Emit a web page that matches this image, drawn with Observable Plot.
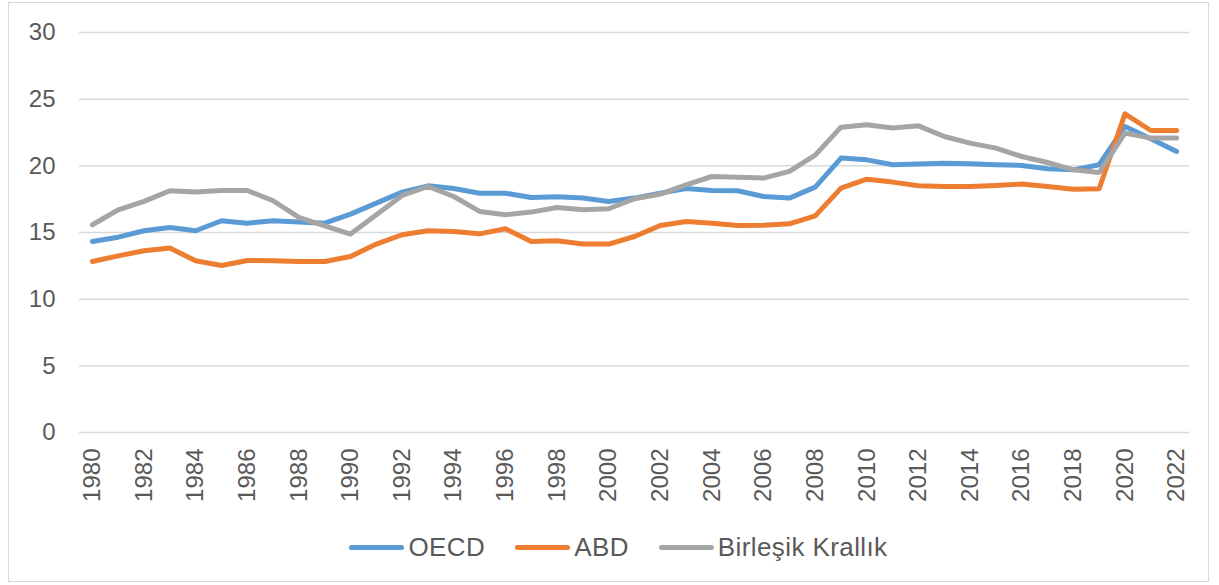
<!DOCTYPE html>
<html>
<head>
<meta charset="utf-8">
<script src="https://cdn.jsdelivr.net/npm/d3@7"></script>
<script src="https://cdn.jsdelivr.net/npm/@observablehq/plot@0.6"></script>
<style>
  html, body { margin: 0; padding: 0; background: #fff; }
  #wrap { position: relative; width: 1219px; height: 585px; overflow: hidden; font-family: "Liberation Sans", Arial, sans-serif; }
  #frame { position: absolute; left: 8px; top: 2px; width: 1201px; height: 580px; border: 1.5px solid #d9d9d9; box-sizing: border-box; pointer-events: none; }
  #chart { position: absolute; left: 0; top: 0; }
  #legend { position: absolute; left: 0; top: 529px; width: 1219px; height: 36px; display: flex; justify-content: center; align-items: center; gap: 30px; font-size: 26px; letter-spacing: 0.4px; color: #595959; padding-left: 18px; box-sizing: border-box; }
  .item { display: flex; align-items: center; }
  .swatch { display: inline-block; width: 55px; height: 5px; border-radius: 3px; margin-right: 4px; }
</style>
</head>
<body>
<div id="wrap">
  <div id="chart"></div>
  <div id="legend"></div>
  <div id="frame"></div>
</div>
<script>
const years = [1980,1981,1982,1983,1984,1985,1986,1987,1988,1989,1990,1991,1992,1993,1994,1995,1996,1997,1998,1999,2000,2001,2002,2003,2004,2005,2006,2007,2008,2009,2010,2011,2012,2013,2014,2015,2016,2017,2018,2019,2020,2021,2022];
const oecd = [14.33,14.65,15.13,15.38,15.13,15.88,15.7,15.88,15.78,15.7,16.38,17.2,18.03,18.5,18.3,17.95,17.95,17.63,17.68,17.58,17.33,17.58,17.95,18.3,18.15,18.13,17.7,17.58,18.4,20.58,20.45,20.08,20.13,20.2,20.15,20.08,20.03,19.78,19.7,20.08,22.95,22.03,21.08];
const abd = [12.83,13.25,13.63,13.83,12.88,12.53,12.9,12.88,12.83,12.83,13.2,14.13,14.83,15.13,15.08,14.9,15.28,14.33,14.38,14.13,14.13,14.7,15.53,15.83,15.7,15.53,15.55,15.65,16.25,18.33,19.0,18.78,18.5,18.45,18.45,18.53,18.63,18.45,18.25,18.28,23.9,22.65,22.65];
const uk = [15.58,16.7,17.33,18.13,18.03,18.15,18.15,17.38,16.13,15.5,14.88,16.33,17.78,18.45,17.7,16.58,16.33,16.53,16.88,16.7,16.78,17.53,17.88,18.58,19.2,19.15,19.08,19.58,20.8,22.9,23.08,22.83,23.0,22.2,21.7,21.33,20.7,20.25,19.7,19.5,22.45,22.08,22.08];
const seriesNames = ["OECD", "ABD", "Birleşik Krallık"];
const seriesColors = ["#5B9BD5", "#ED7D31", "#A5A5A5"];
const yTicks = [0, 5, 10, 15, 20, 25, 30];
const xTicks = [1980,1982,1984,1986,1988,1990,1992,1994,1996,1998,2000,2002,2004,2006,2008,2010,2012,2014,2016,2018,2020,2022];

const valuesBySeries = [oecd, abd, uk];
const rows = [];
seriesNames.forEach((name, si) => {
  years.forEach((yr, i) => rows.push({series: name, year: yr, value: valuesBySeries[si][i]}));
});

const chart = Plot.plot({
  width: 1219,
  height: 520,
  marginLeft: 79,
  marginRight: 30,
  marginTop: 32,
  marginBottom: 88,
  style: { fontFamily: '"Liberation Sans", Arial, sans-serif', fontSize: "24px", color: "#595959", background: "transparent" },
  x: { domain: [1979.5, 2022.5], ticks: xTicks, tickFormat: d => String(d) },
  y: { domain: [0, 30], ticks: yTicks },
  color: { domain: seriesNames, range: seriesColors },
  marks: [
    Plot.ruleY(yTicks, { stroke: "#d9d9d9", strokeWidth: 1.5 }),
    Plot.axisY({ ticks: yTicks, tickSize: 0, tickPadding: 24, label: null, fontSize: 24, fill: "#595959" }),
    Plot.axisX({ ticks: xTicks, tickSize: 0, tickPadding: 16, tickRotate: -90, label: null, fontSize: 24, fill: "#595959", tickFormat: d => String(d) }),
    Plot.line(rows, { x: "year", y: "value", z: "series", stroke: "series", strokeWidth: 5, strokeLinejoin: "round", strokeLinecap: "round" })
  ]
});
document.getElementById("chart").appendChild(chart);

const legend = document.getElementById("legend");
seriesNames.forEach((name, i) => {
  const it = document.createElement("div");
  it.className = "item";
  const sw = document.createElement("span");
  sw.className = "swatch";
  sw.style.background = seriesColors[i];
  it.appendChild(sw);
  const t = document.createElement("span");
  t.textContent = name;
  it.appendChild(t);
  legend.appendChild(it);
});
</script>
</body>
</html>
